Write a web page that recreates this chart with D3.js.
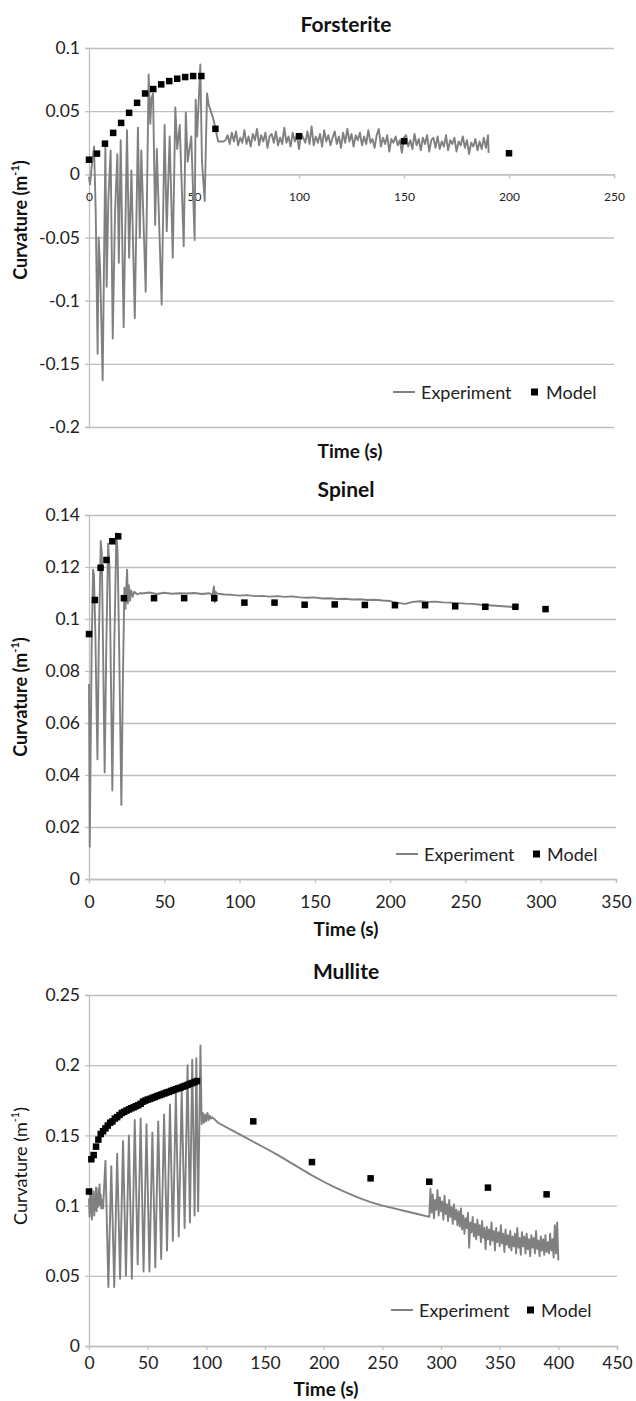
<!DOCTYPE html>
<html><head><meta charset="utf-8">
<script src="https://cdn.jsdelivr.net/npm/d3@7"></script>
<style>body{margin:0;background:#fff}svg{display:block}</style>
</head><body>
<svg id="chart" width="636" height="1401"></svg>
<script>
// ---------- DATA ----------
const forsteriteXTicks = [0, 50, 100, 150, 200, 250];
const forsteriteYTicks = [-0.2, -0.15, -0.1, -0.05, 0, 0.05, 0.1];
const spinelXTicks = [0, 50, 100, 150, 200, 250, 300, 350];
const spinelYTicks = [0, 0.02, 0.04, 0.06, 0.08, 0.1, 0.12, 0.14];
const mulliteXTicks = [0, 50, 100, 150, 200, 250, 300, 350, 400, 450];
const mulliteYTicks = [0, 0.05, 0.1, 0.15, 0.2, 0.25];

const forsteriteExperiment = [
 [0,-0.002],[0.5,-0.008],[1.2,0.005],[2.4,0.022],[3.2,-0.03],[4.1,-0.142],[4.6,-0.05],[5.3,-0.075],[6.5,-0.163],
 [7.8,0.022],[8.4,-0.089],[9.2,-0.02],[10.3,0.019],[11.3,-0.130],[12.4,-0.03],[13.5,0.016],[14.2,-0.07],[15.1,0.027],
 [16.5,-0.121],[18.1,0.035],[19.1,-0.066],[20.2,0.003],[21.8,-0.114],[23.3,0.037],[24.2,-0.05],[24.9,0.019],[27,-0.093],
 [28.4,0.079],[29.2,0.04],[29.7,0.06],[30.5,0.064],[31.5,-0.04],[32.3,0.02],[34.6,-0.103],[36,0.039],[37,-0.045],
 [38.4,0.030],[39.9,-0.066],[41.1,0.053],[42,0.02],[43.2,0.039],[45.1,-0.057],[46.1,0.049],[47,0.01],[48.7,0.03],
 [50.3,-0.052],[50.8,0.059],[51.5,0.03],[53,0.087],[53.8,0.01],[55.1,-0.021],[56.2,0.064],[57,0.055],[58,0.05],
 [59,0.045],[60,0.038],[61,0.03],[61.5,0.026],[62,0.026],[63,0.026],[64,0.026],[65,0.027],
 [66,0.031],[67,0.024],[68,0.033],[69,0.026],[70,0.034],[71,0.023],[72,0.029],[73,0.025],[74,0.035],[75,0.024],
 [76,0.030],[77,0.022],[78,0.032],[79,0.027],[80,0.036],[81,0.023],[82,0.031],[83,0.026],[84,0.033],[85,0.021],
 [86,0.030],[87,0.032],[88,0.025],[89,0.034],[90,0.023],[91,0.029],[92,0.024],[93,0.037],[94,0.025],[95,0.030],
 [96,0.022],[97,0.033],[98,0.026],[99,0.031],[100,0.020],[101,0.032],[102,0.029],[103,0.025],[104,0.034],[105,0.024],
 [106,0.038],[107,0.023],[108,0.030],[109,0.025],[110,0.032],[111,0.022],[112,0.035],[113,0.026],[114,0.031],[115,0.023],
 [116,0.029],[117,0.034],[118,0.024],[119,0.030],[120,0.021],[121,0.033],[122,0.025],[123,0.036],[124,0.026],[125,0.032],
 [126,0.022],[127,0.031],[128,0.027],[129,0.033],[130,0.023],[131,0.030],[132,0.024],[133,0.035],[134,0.025],[135,0.028],
 [136,0.021],[137,0.031],[138,0.036],[139,0.022],[140,0.029],[141,0.024],[142,0.031],[143,0.018],[144,0.028],[145,0.025],
 [146,0.030],[147,0.023],[148,0.027],[149,0.017],[150,0.029],[151,0.031],[152,0.022],[153,0.027],[154,0.020],[155,0.032],
 [156,0.023],[157,0.028],[158,0.019],[159,0.029],[160,0.024],[161,0.031],[162,0.018],[163,0.027],[164,0.029],[165,0.021],
 [166,0.030],[167,0.020],[168,0.026],[169,0.022],[170,0.031],[171,0.019],[172,0.027],[173,0.024],[174,0.029],[175,0.018],
 [176,0.026],[177,0.023],[178,0.030],[179,0.021],[180,0.027],[181,0.016],[182,0.025],[183,0.022],[184,0.028],[185,0.019],
 [186,0.026],[187,0.020],[188,0.029],[189,0.021],[190,0.031],[190.3,0.017]
];
const forsteriteModel = [
 [0,0.0116],[3.8,0.0164],[7.6,0.0243],[11.5,0.0328],[15.3,0.0407],[19.1,0.0487],[22.9,0.0566],[26.7,0.064],
 [30.6,0.0675],[34.4,0.0712],[38.2,0.0738],[42,0.0757],[45.8,0.077],[49.6,0.0778],[53.5,0.0778],
 [60.2,0.036],[100,0.0302],[150,0.0262],[200,0.0167]
];

const spinelExperiment = [
 [0,0.075],[0.3,0.04],[0.5,0.0124],[1.1,0.05],[1.8,0.09],[2.7,0.119],[3.3,0.117],[4.2,0.095],[5.6,0.046],[6.5,0.09],
 [7.8,0.130],[8.5,0.125],[9.3,0.09],[10.4,0.041],[11.5,0.09],[12.7,0.129],[13.6,0.12],[14.5,0.08],[15.5,0.034],
 [16.8,0.09],[18.2,0.133],[19,0.125],[20,0.09],[21.5,0.0285],[22.6,0.08],[23.5,0.112],[24.2,0.104],[25.3,0.119],
 [25.8,0.106],[26.5,0.113],[27.2,0.107],[28,0.111],[29,0.1085],[30,0.1105],[32,0.1095],[34,0.110],
 [35,0.1098],[40,0.1102],[45,0.1096],[50,0.1101],[55,0.1097],[60,0.1099],[65,0.1098],[70,0.1100],[75,0.1096],
 [80,0.1099],[82,0.1092],[83,0.1125],[83.5,0.1065],[84,0.1105],[85,0.1098],[90,0.1094],[95,0.1093],[100,0.1090],
 [105,0.1092],[110,0.1088],[115,0.1089],[120,0.1086],[125,0.1088],[130,0.1085],[135,0.1087],[140,0.1083],
 [145,0.1082],[150,0.1083],[155,0.1079],[160,0.1080],[165,0.1077],[170,0.1078],[175,0.1075],[180,0.1076],
 [185,0.1073],[190,0.1074],[195,0.1071],[200,0.1069],[205,0.1062],[210,0.1058],[215,0.1066],[220,0.1068],
 [225,0.1066],[230,0.1067],[235,0.1064],[240,0.1063],[245,0.1061],[250,0.1059],[255,0.1058],[260,0.1055],
 [265,0.1053],[270,0.1051],[275,0.1049],[280,0.1047],[283,0.1046]
];
const spinelModel = [
 [0,0.0942],[3.9,0.1073],[7.7,0.1197],[11.6,0.1227],[15.5,0.1299],[19.4,0.1318],
 [23.2,0.108],[43.2,0.108],[63.2,0.108],[83.2,0.108],[103.2,0.1063],[123.2,0.1063],[143.2,0.1055],
 [163.2,0.1056],[183.2,0.1054],[203.2,0.1053],[223.2,0.1053],[243.2,0.1049],[263.2,0.1047],[283.2,0.1047],[303.2,0.1038]
];

const mulliteExperiment = [
 [0,0.105],[0.5,0.092],[1,0.108],[1.5,0.095],[2,0.112],[2.5,0.090],[3,0.104],[3.5,0.098],[4,0.110],[4.5,0.093],
 [5,0.106],[5.5,0.097],[6,0.113],[6.5,0.096],[7,0.108],[7.5,0.099],[8,0.112],[8.5,0.101],[9,0.115],[9.5,0.100],
 [10,0.108],[10.5,0.098],[11,0.104],[12,0.098],[13,0.115],[14,0.132],
 [16.5,0.042],[19,0.128],[21.5,0.042],[24,0.137],[26.5,0.048],[29,0.146],[31.5,0.050],[34,0.150],[36.5,0.048],
 [39,0.161],[41.5,0.058],[44,0.162],[46.5,0.053],[49,0.158],[51.5,0.053],[54,0.152],[56.5,0.056],[59,0.160],
 [61.5,0.062],[64,0.165],[66.5,0.068],[69,0.172],[71.5,0.075],[74,0.180],[76.5,0.078],[79,0.182],[81.5,0.084],
 [84,0.200],[86,0.088],[88,0.204],[90,0.093],[91.5,0.205],[93,0.096],[95,0.214],
 [96,0.158],[97,0.166],[98,0.159],[99,0.165],[100,0.160],[101,0.166],[102,0.161],[103,0.164],[104,0.162],[105,0.163],
 [110,0.159],[120,0.1545],[130,0.150],[140,0.1455],[150,0.141],[160,0.1365],[170,0.1315],[180,0.1265],[190,0.1215],
 [200,0.117],[210,0.1128],[220,0.109],[230,0.1055],[240,0.1025],[250,0.100],[260,0.098],[270,0.096],[280,0.094],
 [290,0.092],[291,0.112],[292,0.095],[293,0.108],[294,0.091],[295,0.104],[296,0.097],[297,0.111],[298,0.093],[299,0.106],
 [300,0.096],[301,0.103],[302,0.090],[303,0.107],[304,0.094],[305,0.101],[306,0.089],[307,0.104],[308,0.092],[309,0.099],
 [310,0.087],[311,0.101],[312,0.090],[313,0.097],[314,0.086],[315,0.096],[316,0.085],[317,0.098],[318,0.083],[319,0.093],
 [320,0.080],[321,0.091],[322,0.084],[323,0.095],[324,0.070],[325,0.088],[326,0.081],[327,0.092],[328,0.078],[329,0.087],
 [330,0.076],[331,0.090],[332,0.079],[333,0.086],[334,0.074],[335,0.089],[336,0.077],[337,0.084],[338,0.069],[339,0.085],
 [340,0.076],[341,0.083],[342,0.072],[343,0.088],[344,0.075],[345,0.082],[346,0.068],[347,0.084],[348,0.074],[349,0.081],
 [350,0.071],[351,0.086],[352,0.073],[353,0.080],[354,0.067],[355,0.083],[356,0.072],[357,0.079],[358,0.070],[359,0.082],
 [360,0.068],[361,0.078],[362,0.071],[363,0.080],[364,0.066],[365,0.084],[366,0.070],[367,0.077],[368,0.065],[369,0.081],
 [370,0.071],[371,0.078],[372,0.066],[373,0.080],[374,0.069],[375,0.076],[376,0.064],[377,0.079],[378,0.070],[379,0.077],
 [380,0.066],[381,0.082],[382,0.069],[383,0.075],[384,0.064],[385,0.078],[386,0.068],[387,0.076],[388,0.065],[389,0.079],
 [390,0.067],[391,0.074],[392,0.066],[393,0.080],[394,0.068],[395,0.076],[396,0.063],[397,0.086],[398,0.066],[399,0.088],[400,0.061]
];
const mulliteModel = [
 [0,0.110],[2,0.133],[4,0.136],[6,0.142],[8,0.147],[10,0.151],[12,0.153],[14,0.155],[16,0.157],[18,0.159],
 [20,0.160],[22,0.162],[24,0.163],[26,0.1645],[28,0.166],[30,0.1668],[32,0.1677],[34,0.1685],[36,0.1693],[38,0.170],
 [40,0.1708],[42,0.1715],[44,0.1725],[46,0.174],[48,0.1748],[50,0.1755],[52,0.176],[54,0.1767],[56,0.1773],[58,0.178],
 [60,0.1786],[62,0.1792],[64,0.1798],[66,0.1805],[68,0.181],[70,0.1817],[72,0.1823],[74,0.1829],[76,0.1835],[78,0.184],
 [80,0.1847],[82,0.1853],[84,0.186],[86,0.1867],[88,0.1873],[90,0.188],[92,0.1887],
 [140,0.160],[190,0.131],[240,0.1194],[290,0.117],[340,0.1128],[390,0.108]
];

// ---------- LAYOUT ----------
const panels = [
 {title:"Forsterite", exp:forsteriteExperiment, model:forsteriteModel, xDomain:[0,250], xTicks:forsteriteXTicks,
  yDomain:[-0.2,0.1], yTicks:forsteriteYTicks, left:89, right:614, top:48, bottom:427,
  titleY:32, timeY:458, timeX:350, yTitleY:220, yTitleBold:true, xFont:12, xPad:14, legendY:392,
  legend:{line:[393,415], exp:421, sq:531, mod:546}},
 {title:"Spinel", exp:spinelExperiment, model:spinelModel, xDomain:[0,350], xTicks:spinelXTicks,
  yDomain:[0,0.14], yTicks:spinelYTicks, left:89, right:616, top:515, bottom:879,
  titleY:497, timeY:936, timeX:346, yTitleY:697, yTitleBold:true, xFont:17.5, xPad:13, legendY:854,
  legend:{line:[396,418], exp:424, sq:533, mod:547}},
 {title:"Mullite", exp:mulliteExperiment, model:mulliteModel, xDomain:[0,450], xTicks:mulliteXTicks,
  yDomain:[0,0.25], yTicks:mulliteYTicks, left:89, right:617, top:995, bottom:1346,
  titleY:979, timeY:1396, timeX:326, yTitleY:1166, yTitleBold:false, xFont:17.5, xPad:7, legendY:1310,
  legend:{line:[391,413], exp:419, sq:527, mod:541}}
];

const FONT = "Lato, 'Open Sans', sans-serif";
const GRID = "#bfbfbf";
const LINE = "#808080";
const svg = d3.select("#chart");

panels.forEach(p => {
  const x = d3.scaleLinear().domain(p.xDomain).range([p.left, p.right]);
  const y = d3.scaleLinear().domain(p.yDomain).range([p.bottom, p.top]);
  const g = svg.append("g");

  g.append("text").attr("x", 346).attr("y", p.titleY).attr("text-anchor","middle")
   .attr("font-family", FONT).attr("font-weight","bold").attr("font-size", 21).attr("fill","#111")
   .text(p.title);

  const grid = g.append("g").attr("transform", `translate(${p.left},0)`)
    .call(d3.axisLeft(y).tickValues(p.yTicks).tickSize(-(p.right - p.left)).tickFormat(""));
  grid.select(".domain").remove();
  grid.selectAll("line").attr("stroke", GRID).attr("stroke-width", 1.3);

  const ya = g.append("g").attr("transform", `translate(${p.left},0)`)
    .call(d3.axisLeft(y).tickValues(p.yTicks).tickSize(4).tickPadding(5).tickFormat(d => String(+d.toFixed(3))));
  ya.select(".domain").attr("stroke", GRID).attr("stroke-width", 1.3);
  ya.selectAll("line").attr("stroke", GRID).attr("stroke-width", 1.3);
  ya.selectAll("text").attr("font-family", FONT).attr("font-size", 17.5).attr("fill","#222");

  const xa = g.append("g").attr("transform", `translate(0,${y(0)})`)
    .call(d3.axisBottom(x).tickValues(p.xTicks).tickSize(4).tickPadding(p.xPad).tickFormat(d3.format("d")));
  xa.select(".domain").attr("stroke", GRID).attr("stroke-width", 1.3);
  xa.selectAll("line").attr("stroke", GRID).attr("stroke-width", 1.3);
  xa.selectAll("text").attr("font-family", FONT).attr("font-size", p.xFont).attr("fill","#222");

  g.append("path").datum(p.exp)
   .attr("d", d3.line().x(d => x(d[0])).y(d => y(d[1])))
   .attr("fill","none").attr("stroke", LINE).attr("stroke-width", 1.9).attr("stroke-linejoin","round");

  const s = 6.5;
  g.append("g").selectAll("rect").data(p.model).join("rect")
   .attr("x", d => x(d[0]) - s/2).attr("y", d => y(d[1]) - s/2)
   .attr("width", s).attr("height", s).attr("fill","#000");

  g.append("text").attr("x", p.timeX).attr("y", p.timeY).attr("text-anchor","middle")
   .attr("font-family", FONT).attr("font-weight","bold").attr("font-size", 19).attr("fill","#111")
   .text("Time (s)");
  const yt = g.append("text").attr("transform", `translate(20,${p.yTitleY}) rotate(-90)`)
   .attr("text-anchor","middle").attr("dominant-baseline","central")
   .attr("font-family", FONT).attr("font-weight", p.yTitleBold ? "bold" : "normal")
   .attr("font-size", 18).attr("fill","#111");
  yt.append("tspan").text("Curvature (m");
  yt.append("tspan").attr("font-size", 11).attr("dy", -6).text("-1");
  yt.append("tspan").attr("dy", 6).text(")");

  const L = p.legend;
  g.append("line").attr("x1", L.line[0]).attr("x2", L.line[1]).attr("y1", p.legendY).attr("y2", p.legendY)
   .attr("stroke", LINE).attr("stroke-width", 2);
  g.append("text").attr("x", L.exp).attr("y", p.legendY).attr("dominant-baseline","central")
   .attr("font-family", FONT).attr("font-size", 18).attr("fill","#222").text("Experiment");
  g.append("rect").attr("x", L.sq).attr("y", p.legendY - 3.5).attr("width", 7).attr("height", 7).attr("fill","#000");
  g.append("text").attr("x", L.mod).attr("y", p.legendY).attr("dominant-baseline","central")
   .attr("font-family", FONT).attr("font-size", 18).attr("fill","#222").text("Model");
});
</script>
</body></html>
